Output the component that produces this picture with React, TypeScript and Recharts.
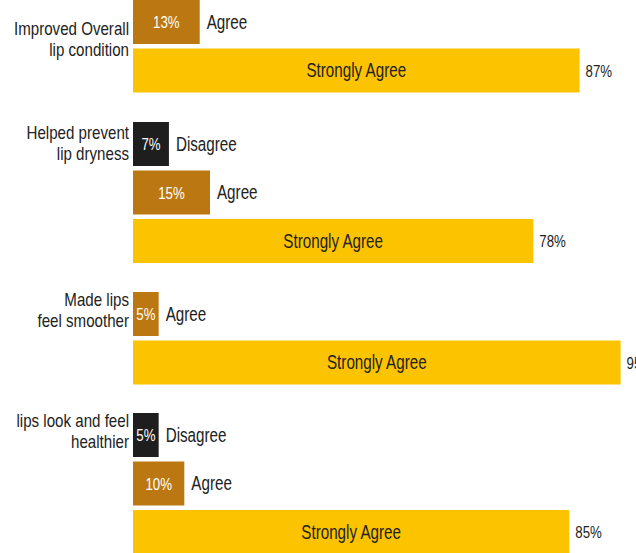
import { BarChart, Bar, XAxis, YAxis, Cell, LabelList } from "recharts";

const questions = [
  ["Improved Overall", "lip condition"],
  ["Helped prevent", "lip dryness"],
  ["Made lips", "feel smoother"],
  ["lips look and feel", "healthier"],
];

const levels = ["Disagree", "Agree", "Strongly Agree"];

// null = response not shown for that question
const disagree = [null, 7, null, 5];
const agree = [13, 15, 5, 10];
const stronglyAgree = [87, 78, 95, 85];

const levelColors = {
  Disagree: "#1e1e1e",
  Agree: "#bb7812",
  "Strongly Agree": "#fcc300",
};

// vertical nudge of each question label (the original places them by hand)
const labelNudge = [18, 0, -3, -3];

const font = "'Liberation Sans', Arial, sans-serif";
const ROW = 48.5;

// the original uses a condensed face, squeeze regular Liberation Sans instead
function NarrowText({ x, y, anchor = "start", size = 19.5, squeeze = 0.78, fill = "#222", children }: any) {
  return (
    <g transform={`translate(${x},${y}) scale(${squeeze},1)`}>
      <text x={0} y={0} textAnchor={anchor} dominantBaseline="central" fontFamily={font} fontSize={size} fill={fill}>
        {children}
      </text>
    </g>
  );
}

function QuestionTick(props: any) {
  const { x, y, payload, lines, nudge } = props;
  if (payload.index !== 0) return null;
  return (
    <g>
      <NarrowText x={x + 4} y={y - 11 + nudge} anchor="end" size={18} squeeze={0.84}>
        {lines[0]}
      </NarrowText>
      <NarrowText x={x + 4} y={y + 10 + nudge} anchor="end" size={18} squeeze={0.84}>
        {lines[1]}
      </NarrowText>
    </g>
  );
}

function groupRows(qi: number) {
  const vals = [disagree[qi], agree[qi], stronglyAgree[qi]];
  return levels
    .map((level, i) => ({ level, value: vals[i] }))
    .filter((r) => r.value !== null);
}

function Group({ qi }: { qi: number }) {
  const rows = groupRows(qi);

  const valueLabel = (p: any) => {
    const { x, y, width, height, index, value } = p;
    const cy = y + height / 2;
    if (rows[index].level === "Strongly Agree") {
      return <NarrowText x={x + width + 6} y={cy} size={17}>{value}%</NarrowText>;
    }
    return (
      <NarrowText x={x + width / 2} y={cy} anchor="middle" size={17} fill="#fff">
        {value}%
      </NarrowText>
    );
  };

  const levelLabel = (p: any) => {
    const { x, y, width, height, index } = p;
    const row = rows[index];
    const cy = y + height / 2;
    if (row.level === "Strongly Agree") {
      return <NarrowText x={x + width / 2} y={cy} anchor="middle">{row.level}</NarrowText>;
    }
    return <NarrowText x={x + width + 7} y={cy}>{row.level}</NarrowText>;
  };

  return (
    <BarChart
      width={636}
      height={rows.length * ROW}
      data={rows}
      layout="vertical"
      margin={{ top: 0, right: 0, bottom: 0, left: 0 }}
      style={{ overflow: "visible" }}
    >
      <XAxis type="number" domain={[0, 98]} hide />
      <YAxis
        type="category"
        dataKey="level"
        width={133}
        axisLine={false}
        tickLine={false}
        tick={<QuestionTick lines={questions[qi]} nudge={labelNudge[qi]} />}
      />
      <Bar dataKey="value" barSize={44} isAnimationActive={false}>
        {rows.map((r) => (
          <Cell key={r.level} fill={levelColors[r.level as keyof typeof levelColors]} />
        ))}
        <LabelList dataKey="value" content={valueLabel} />
        <LabelList dataKey="level" content={levelLabel} />
      </Bar>
    </BarChart>
  );
}

export default function App() {
  return (
    <div
      style={{
        position: "absolute",
        left: 0,
        top: 0,
        width: 636,
        height: 553,
        overflow: "hidden",
        background: "#fff",
      }}
    >
      <div style={{ marginTop: -2, display: "flex", flexDirection: "column", gap: 24.5 }}>
        {questions.map((_, qi) => (
          <Group key={qi} qi={qi} />
        ))}
      </div>
    </div>
  );
}
